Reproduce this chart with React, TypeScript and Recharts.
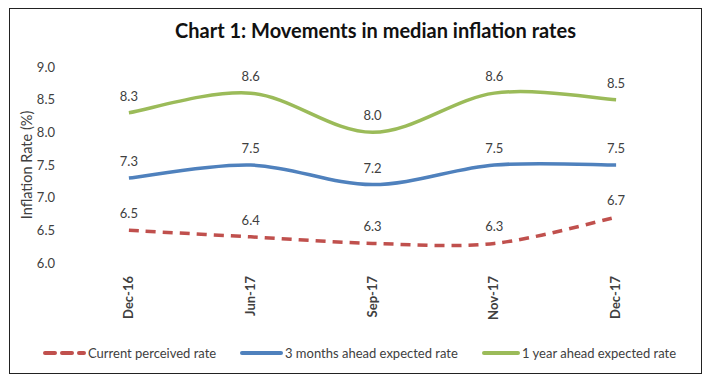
import { LineChart, Line, XAxis, YAxis, LabelList } from 'recharts';

// ── Data ────────────────────────────────────────────────────
const periods = ['Dec-16', 'Jun-17', 'Sep-17', 'Nov-17', 'Dec-17'];
const currentPerceived = [6.5, 6.4, 6.3, 6.3, 6.7];
const threeMonthsAhead = [7.3, 7.5, 7.2, 7.5, 7.5];
const oneYearAhead = [8.3, 8.6, 8.0, 8.6, 8.5];
const yTicks = [6.0, 6.5, 7.0, 7.5, 8.0, 8.5, 9.0];
const boundaryTicks = [0, 1, 2, 3, 4, 5];

const series = [
  { key: 'current', name: 'Current perceived rate', color: '#C0504D', dash: '10 7', values: currentPerceived },
  { key: 'three', name: '3 months ahead expected rate', color: '#4F81BD', dash: undefined, values: threeMonthsAhead },
  { key: 'year', name: '1 year ahead expected rate', color: '#9BBB59', dash: undefined, values: oneYearAhead },
];

const data = periods.map((p, i) => ({
  period: p,
  current: currentPerceived[i],
  three: threeMonthsAhead[i],
  year: oneYearAhead[i],
}));

const FONT = 'Lato, "Open Sans", sans-serif';
const TEXT = '#404040';

// Excel-style smoothed line (uniform Catmull-Rom as cubic beziers)
const excelSmooth = (ctx: any) => {
  let pts: number[][] = [];
  return {
    areaStart() {},
    areaEnd() {},
    lineStart() {
      pts = [];
    },
    point(x: number, y: number) {
      pts.push([+x, +y]);
    },
    lineEnd() {
      if (!pts.length) return;
      ctx.moveTo(pts[0][0], pts[0][1]);
      for (let i = 0; i < pts.length - 1; i++) {
        const p0 = pts[i - 1] || pts[i];
        const p1 = pts[i];
        const p2 = pts[i + 1];
        const p3 = pts[i + 2] || p2;
        ctx.bezierCurveTo(
          p1[0] + (p2[0] - p0[0]) / 6,
          p1[1] + (p2[1] - p0[1]) / 6,
          p2[0] - (p3[0] - p1[0]) / 6,
          p2[1] - (p3[1] - p1[1]) / 6,
          p2[0],
          p2[1]
        );
      }
    },
  };
};

const PeriodTick = ({ x, y, payload }: any) => (
  <g transform={`translate(${x},${y})`}>
    <text
      transform="rotate(-90)"
      textAnchor="end"
      dy={4}
      fontFamily={FONT}
      fontSize={13}
      fontWeight={700}
      fill={TEXT}
    >
      {payload.value}
    </text>
  </g>
);

const EmptyTick = () => <g />;

function LegendRow() {
  const pos = [
    { line: 43, text: 88 },
    { line: 240, text: 285 },
    { line: 482, text: 522 },
  ];
  return (
    <>
      {series.map((s, i) => (
        <div
          key={s.key}
          style={{
            position: 'absolute',
            left: pos[i].line,
            top: 343,
            height: 20,
            display: 'flex',
            alignItems: 'center',
            fontFamily: FONT,
            fontSize: 13,
            color: TEXT,
            whiteSpace: 'nowrap',
          }}
        >
          <svg width={pos[i].text - pos[i].line} height={8} style={{ display: 'block' }}>
            <line
              x1={2}
              y1={4}
              x2={pos[i].text - pos[i].line - 4}
              y2={4}
              stroke={s.color}
              strokeWidth={4}
              strokeDasharray={s.dash}
              strokeLinecap="round"
            />
          </svg>
          <span>{s.name}</span>
        </div>
      ))}
    </>
  );
}

export default function App() {
  return (
    <div style={{ position: 'absolute', left: 0, top: 0, width: 711, height: 383, background: '#fff' }}>
      <div
        style={{
          position: 'absolute',
          left: 9,
          top: 8,
          width: 691,
          height: 364,
          border: '1.5px solid #222',
        }}
      />
      <div
        style={{
          position: 'absolute',
          left: 40,
          top: 18,
          width: 671,
          textAlign: 'center',
          fontFamily: FONT,
          fontWeight: 700,
          fontSize: 20,
          color: '#111',
        }}
      >
        Chart 1: Movements in median inflation rates
      </div>
      <div
        style={{
          position: 'absolute',
          left: 26,
          top: 165,
          transform: 'translate(-50%, -50%) rotate(-90deg)',
          fontFamily: FONT,
          fontSize: 14.5,
          color: TEXT,
          whiteSpace: 'nowrap',
        }}
      >
        Inflation Rate (%)
      </div>
      <div style={{ position: 'absolute', left: 0, top: 0 }}>
        <LineChart
          width={711}
          height={383}
          data={data}
          margin={{ top: 67, right: 34, bottom: 40, left: 0 }}
        >
          <XAxis
            xAxisId="grid"
            type="number"
            domain={[0, 5]}
            ticks={boundaryTicks}
            height={0}
            axisLine={{ stroke: '#CFCFCF' }}
            tickLine={{ stroke: '#CFCFCF' }}
            tickSize={5}
            tick={EmptyTick}
          />
          <XAxis
            dataKey="period"
            scale="band"
            height={80}
            axisLine={false}
            tickLine={false}
            tickSize={0}
            tickMargin={13}
            interval={0}
            tick={PeriodTick}
          />
          <YAxis
            width={68}
            domain={[6, 9]}
            ticks={yTicks}
            tickFormatter={(v: number) => v.toFixed(1)}
            axisLine={false}
            tickLine={false}
            tickSize={0}
            tickMargin={13}
            tick={{ fontFamily: FONT, fontSize: 13, fill: TEXT }}
          />
          {series.map((s) => (
            <Line
              key={s.key}
              dataKey={s.key}
              name={s.name}
              type={excelSmooth as any}
              stroke={s.color}
              strokeWidth={3.5}
              strokeDasharray={s.dash}
              dot={false}
              activeDot={false}
              isAnimationActive={false}
            >
              <LabelList
                dataKey={s.key}
                position="top"
                offset={12}
                formatter={(v: any) => Number(v).toFixed(1)}
                style={{ fontFamily: FONT, fontSize: 13, fill: TEXT }}
              />
            </Line>
          ))}
        </LineChart>
      </div>
      <LegendRow />
    </div>
  );
}
